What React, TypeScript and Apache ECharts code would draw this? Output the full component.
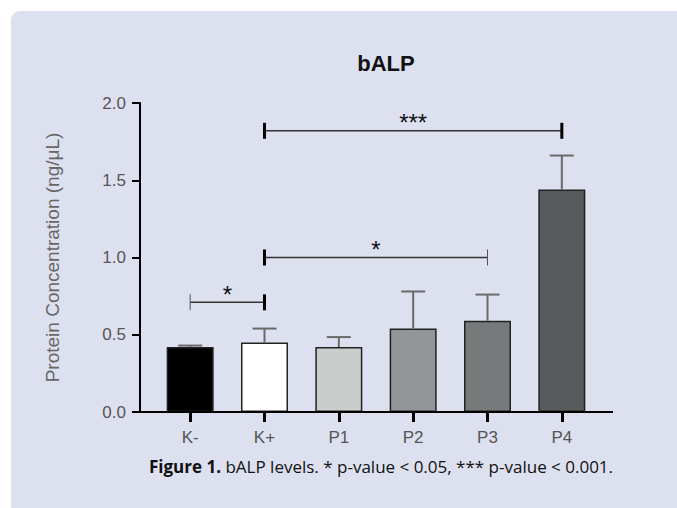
import React, { useEffect, useRef } from "react";
import * as echarts from "echarts";

const categories = ["K-", "K+", "P1", "P2", "P3", "P4"];
const meanValues = [0.42, 0.45, 0.42, 0.54, 0.59, 1.44];
const errorTops = [0.43, 0.54, 0.485, 0.78, 0.76, 1.66];
const barColors = ["#000000", "#ffffff", "#cbcdcc", "#949598", "#767a7a", "#585a5b"];
const yMin = 0;
const yMax = 2.0;
const yStep = 0.5;
const bracketFrom = [0, 1, 1];
const bracketTo = [1, 4, 5];
const bracketLevel = [0.71, 1.0, 1.82];
const bracketLabels = ["*", "*", "***"];

const titleText = "bALP";
const yAxisName = "Protein Concentration (ng/\u03bcL)";

export default function App() {
  const ref = useRef<HTMLDivElement>(null);
  useEffect(() => {
    if (!ref.current) return;
    const chart = echarts.init(ref.current, null, { renderer: "svg" });
    const boldEnds = [
      [false, true],
      [true, false],
      [true, true],
    ];
    const font = "'Liberation Sans', Arial, Helvetica, sans-serif";
    const capFont = "'Open Sans', 'Noto Sans', sans-serif";
    chart.setOption({
      animation: false,
      backgroundColor: "#ffffff",
      title: {
        text: titleText,
        left: 381,
        top: 47,
        textAlign: "center",
        textStyle: { fontFamily: font, fontSize: 22, fontWeight: "bold", color: "#111" },
      },
      grid: { left: 153, width: 446, top: 103, height: 309 },
      xAxis: {
        type: "category",
        data: categories,
        axisLine: { show: false },
        axisTick: { show: true, alignWithLabel: true, length: 10, lineStyle: { color: "#000", width: 3 } },
        axisLabel: { color: "#555", fontFamily: font, fontSize: 17, margin: 17 },
      },
      yAxis: {
        type: "value",
        min: yMin,
        max: yMax,
        interval: yStep,
        offset: 13,
        name: yAxisName,
        nameLocation: "middle",
        nameGap: 78,
        nameRotate: 90,
        nameTextStyle: { color: "#666", fontFamily: font, fontSize: 19 },
        axisLine: { show: true, lineStyle: { color: "#000", width: 2 } },
        axisTick: { show: true, length: 8, lineStyle: { color: "#000", width: 2 } },
        axisLabel: {
          color: "#555",
          fontFamily: font,
          fontSize: 17,
          margin: 14,
          formatter: (v: number) => v.toFixed(1),
        },
        splitLine: { show: false },
      },
      graphic: [
        {
          type: "rect",
          z: -10,
          shape: { x: 11, y: 11, width: 700, height: 520, r: [9, 0, 0, 0] },
          style: { fill: "#dde0ef" },
        },
        {
          type: "line",
          z: 10,
          shape: { x1: 140, y1: 412, x2: 613, y2: 412 },
          style: { stroke: "#000", lineWidth: 2 },
        },
        {
          type: "text",
          x: 381,
          y: 466,
          style: {
            text: "{b|Figure 1.} bALP levels. * p-value < 0.05, *** p-value < 0.001.",
            fontFamily: capFont,
            fontSize: 17,
            fill: "#111",
            align: "center",
            verticalAlign: "middle",
            rich: {
              b: { fontFamily: capFont, fontSize: 17, fontWeight: "bold", fill: "#111" },
            },
          },
        },
      ],
      series: [
        {
          type: "bar",
          barWidth: 47,
          data: meanValues.map((v, i) => ({
            value: v,
            itemStyle: { color: barColors[i], borderColor: "#222", borderWidth: 1.5 },
          })),
        },
        {
          type: "custom",
          data: meanValues.map((v, i) => [i, v, errorTops[i]]),
          encode: { x: 0, y: [1, 2] },
          z: 3,
          renderItem: (params: any, api: any) => {
            const base = api.coord([api.value(0), api.value(1)]);
            const top = api.coord([api.value(0), api.value(2)]);
            const st = { stroke: "#6a6a6a", lineWidth: 2 };
            return {
              type: "group",
              children: [
                { type: "line", shape: { x1: base[0], y1: base[1], x2: top[0], y2: top[1] }, style: st },
                { type: "line", shape: { x1: top[0] - 12, y1: top[1], x2: top[0] + 12, y2: top[1] }, style: st },
              ],
            };
          },
        },
        {
          type: "custom",
          data: bracketFrom.map((f, i) => [f, bracketTo[i], bracketLevel[i], i]),
          encode: { x: [0, 1], y: 2 },
          z: 4,
          renderItem: (params: any, api: any) => {
            const idx = api.value(3);
            const a = api.coord([api.value(0), api.value(2)]);
            const b = api.coord([api.value(1), api.value(2)]);
            const ends = boldEnds[idx];
            const endStyle = (bold: boolean) =>
              bold ? { stroke: "#000", lineWidth: 3 } : { stroke: "#555", lineWidth: 1 };
            return {
              type: "group",
              children: [
                { type: "line", shape: { x1: a[0], y1: a[1], x2: b[0], y2: b[1] }, style: { stroke: "#333", lineWidth: 1.5 } },
                { type: "line", shape: { x1: a[0], y1: a[1] - 8, x2: a[0], y2: a[1] + 8 }, style: endStyle(ends[0]) },
                { type: "line", shape: { x1: b[0], y1: b[1] - 8, x2: b[0], y2: b[1] + 8 }, style: endStyle(ends[1]) },
                {
                  type: "text",
                  x: (a[0] + b[0]) / 2,
                  y: a[1] + 4,
                  style: {
                    text: bracketLabels[idx],
                    fontFamily: font,
                    fontSize: 24,
                    fill: "#111",
                    align: "center",
                    verticalAlign: "bottom",
                  },
                },
              ],
            };
          },
        },
      ],
    });
    return () => chart.dispose();
  }, []);
  return (
    <div
      ref={ref}
      style={{ position: "fixed", left: 0, top: 0, width: 677, height: 508 }}
    />
  );
}
